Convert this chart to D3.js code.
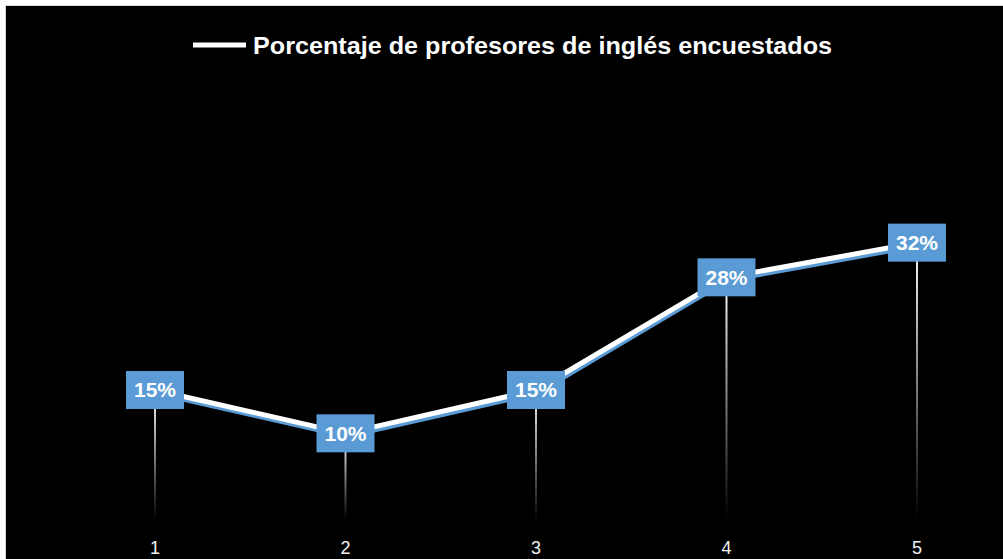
<!DOCTYPE html>
<html><head><meta charset="utf-8">
<script src="https://cdn.jsdelivr.net/npm/d3@7"></script>
<style>body{margin:0;background:#fff;}svg{display:block;}</style>
</head><body>
<script>
const categories = ["1","2","3","4","5"];
const values = [0.15, 0.10, 0.15, 0.28, 0.32];
const labels = ["15%","10%","15%","28%","32%"];
const seriesName = "Porcentaje de profesores de inglés encuestados";

const W = 1003, H = 559;
const svg = d3.select("body").append("svg").attr("width", W).attr("height", H);
const defs = svg.append("defs");
const grad = defs.append("linearGradient").attr("id","drop").attr("x1",0).attr("y1",0).attr("x2",0).attr("y2",1);
grad.append("stop").attr("offset","0%").attr("stop-color","#ffffff");
grad.append("stop").attr("offset","100%").attr("stop-color","#000000");

// chart area
svg.append("rect").attr("x",5.5).attr("y",5.5).attr("width",W).attr("height",H)
  .attr("fill","#000").attr("stroke","#d9d9d9").attr("stroke-width",1);

const x = d3.scalePoint().domain(categories).range([155, 917]);
const y = d3.scaleLinear().domain([0, 0.35]).range([520, 520 - 0.35*866.7]);

const data = categories.map((c,i)=>({c, v: values[i], l: labels[i]}));

// drop lines
svg.append("g").selectAll("rect").data(data).join("rect")
  .attr("x", d => x(d.c) - 1)
  .attr("y", d => y(d.v))
  .attr("width", 2)
  .attr("height", d => y(0) - y(d.v))
  .attr("fill", "url(#drop)");

const line = d3.line().x(d => x(d.c)).y(d => y(d.v));
svg.append("path").datum(data).attr("d", line)
  .attr("transform","translate(1,3.5)")
  .attr("fill","none").attr("stroke","#5b9bd5").attr("stroke-width",4).attr("stroke-linejoin","round");
svg.append("path").datum(data).attr("d", line)
  .attr("fill","none").attr("stroke","#fff").attr("stroke-width",5).attr("stroke-linejoin","round");

// labels
const lg = svg.append("g").selectAll("g").data(data).join("g")
  .attr("transform", d => `translate(${x(d.c)},${y(d.v)})`);
lg.append("rect").attr("x",-29).attr("y",-19).attr("width",58).attr("height",38).attr("fill","#5b9bd5");
lg.append("text").attr("text-anchor","middle").attr("y",7.5)
  .attr("font-family","'Liberation Sans', Arial, sans-serif").attr("font-weight","bold")
  .attr("font-size",21).attr("fill","#fff").text(d => d.l);

// x axis labels
svg.append("g").selectAll("text").data(categories).join("text")
  .attr("x", d => x(d)).attr("y", 554).attr("text-anchor","middle")
  .attr("font-family","'Liberation Sans', Arial, sans-serif").attr("font-size",18)
  .attr("fill","#f2f2f2").text(d => d);

// legend
svg.append("line").attr("x1",193).attr("x2",246).attr("y1",45).attr("y2",45)
  .attr("stroke","#fff").attr("stroke-width",5);
svg.append("text").attr("x",253).attr("y",54)
  .attr("font-family","'Liberation Sans', Arial, sans-serif").attr("font-weight","bold")
  .attr("font-size",24).attr("fill","#fff")
  .attr("textLength",579).attr("lengthAdjust","spacingAndGlyphs")
  .text(seriesName);
</script>
</body></html>
